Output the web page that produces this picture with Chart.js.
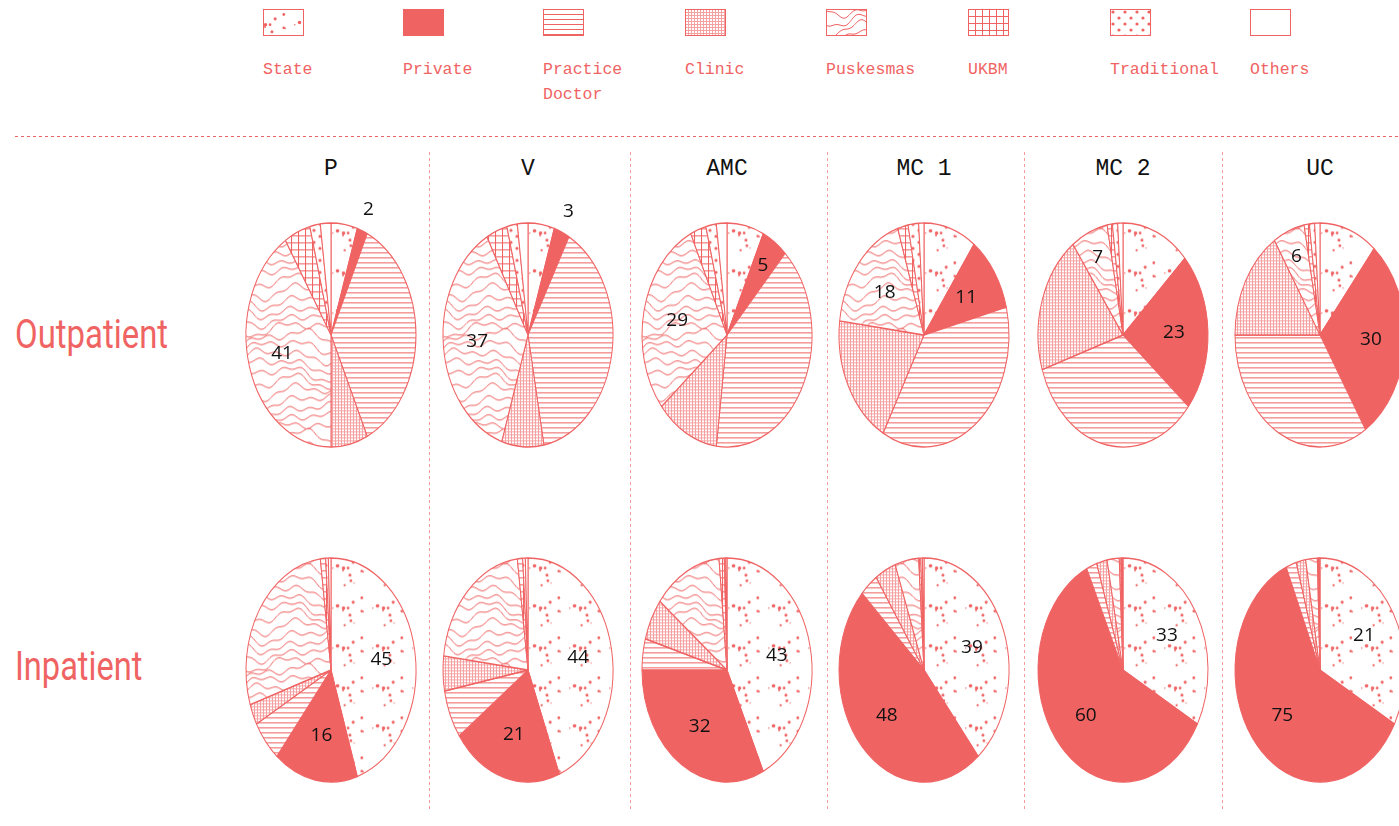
<!DOCTYPE html>
<html>
<head>
<meta charset="utf-8">
<script src="https://cdn.jsdelivr.net/npm/chart.js@4"></script>
<style>
  body { margin: 0; background: #fff; width: 1399px; height: 826px; overflow: hidden; position: relative; }
  .sw { position: absolute; top: 9px; }
  .lg { position: absolute; top: 57px; font: 16.5px/25px 'Liberation Mono', monospace; color: #f06363; white-space: nowrap; }
  .title { position: absolute; top: 154px; width: 200px; text-align: center; font: 23px/30px 'Liberation Mono', monospace; color: #111; white-space: pre; }
  .row { position: absolute; left: 15px; font: 400 40px/40px Roboto, sans-serif; color: #f06363; transform-origin: left center; white-space: nowrap; }
  .vsep { position: absolute; top: 152px; height: 658px; width: 1px; background: repeating-linear-gradient(to bottom, #f49c9c 0 3px, transparent 3px 6px); }
  .hsep { position: absolute; left: 15px; right: 0; top: 136px; height: 1px; background: repeating-linear-gradient(to right, #f06363 0 3px, transparent 3px 6px); }
  canvas.pie { position: absolute; }
</style>
</head>
<body>
<div class="hsep"></div>
<script>
// categories and facilities
const categories = ['State', 'Private', 'Practice\nDoctor', 'Clinic', 'Puskesmas', 'UKBM', 'Traditional', 'Others'];
const facilities = ['P', 'V', 'AMC', 'MC 1', 'MC 2', 'UC'];
const rows = ['Outpatient', 'Inpatient'];

// outpatient shares, order = categories
const outP   = [5, 2, 36, 7, 41, 5, 2, 2];
const outV   = [5, 3, 39, 8, 37, 4, 2, 2];
const outAMC = [7, 5, 40, 12, 29, 3, 2, 2];
const outMC1 = [10, 11, 37, 19, 18, 2, 2, 1];
const outMC2 = [13, 23, 34, 20, 7, 1, 1, 1];
const outUC  = [11, 30, 34, 16, 6, 1, 1, 1];

// inpatient shares
const inP   = [45, 16, 6, 3, 28, 1, 0.5, 0.5];
const inV   = [44, 21, 7, 5, 21, 1, 0.5, 0.5];
const inAMC = [43, 32, 4.5, 6, 13, 1, 0.25, 0.25];
const inMC1 = [39, 48, 3.5, 4, 4.5, 0.4, 0.3, 0.3];
const inMC2 = [33, 60, 2, 2, 2.3, 0.3, 0.2, 0.2];
const inUC  = [33, 60.5, 2, 1.8, 2.2, 0.2, 0.1, 0.2];

// numbers printed on the pies
const outPrivateLabel   = [2, 3, 5, 11, 23, 30];
const outPuskesmasLabel = [41, 37, 29, 18, 7, 6];
const inStateLabel      = [45, 44, 43, 39, 33, 21];
const inPrivateLabel    = [16, 21, 32, 48, 60, 75];

const CORAL = '#f06363';
const KY = 112 / 85;
const colX = [331, 528, 727, 924, 1123, 1320];
const rowY = [335, 670];

// ---------- pattern tiles ----------
function tile(w, h, draw) {
  const c = document.createElement('canvas');
  c.width = w; c.height = h;
  const g = c.getContext('2d');
  g.fillStyle = '#fff'; g.fillRect(0, 0, w, h);
  g.strokeStyle = CORAL; g.fillStyle = CORAL; g.lineWidth = 1;
  draw(g, w, h);
  return c;
}
let seed = 11;
const rnd = () => (seed = (seed * 16807) % 2147483647) / 2147483647;
const TAU = Math.PI * 2;

const tiles = [
  tile(40, 40, g => {            // State: scattered dots
    for (let i = 0; i < 13; i++) {
      g.beginPath(); g.arc(2 + rnd() * 36, 2 + rnd() * 36, 0.6 + rnd() * 1.3, 0, TAU); g.fill();
    }
  }),
  null,                          // Private: solid
  tile(5, 5, g => { g.fillRect(0, 0, 5, 1); }),                       // Practice doctor
  tile(3, 3, g => {              // Clinic: fine grid
    g.fillStyle = 'rgba(240,99,99,0.6)';
    g.fillRect(0, 0, 3, 1); g.fillRect(0, 1, 1, 2);
  }),
  tile(100, 100, g => {          // Puskesmas: contour lines
    for (let i = 0; i < 11; i++) for (const off of [-100, 0, 100]) {
      const p1 = Math.sin(i * 0.6) * 1.5, p2 = i * 0.35, p3 = Math.cos(i * 0.8) * 2;
      g.beginPath();
      for (let x = 0; x <= 100; x++) {
        const y = off + i * 100 / 11 + 5 * Math.sin(TAU * x / 100 + p1)
                + 3.5 * Math.sin(TAU * 2 * x / 100 + p2) + 2 * Math.sin(TAU * 5 * x / 100 + p3);
        x ? g.lineTo(x, y) : g.moveTo(x, y);
      }
      g.stroke();
    }
  }),
  tile(7, 7, g => { g.fillRect(0, 0, 7, 1); g.fillRect(0, 0, 1, 7); }),  // UKBM
  tile(12, 12, g => {            // Traditional
    g.beginPath(); g.arc(3, 3, 1.6, 0, TAU); g.fill();
    g.beginPath(); g.arc(9, 9, 1.6, 0, TAU); g.fill();
  }),
  tile(4, 4, () => {})           // Others: empty
];

const helper = document.createElement('canvas').getContext('2d');
const fills = tiles.map(t => {
  if (!t) return CORAL;
  const p = helper.createPattern(t, 'repeat');
  p.setTransform(new DOMMatrix([1, 0, 0, 1 / KY, 0, 0]));
  return p;
});

// ---------- legend ----------
const legX = [263, 403, 543, 685, 826, 968, 1110, 1250];
categories.forEach((name, i) => {
  const c = document.createElement('canvas');
  c.width = 41; c.height = 27; c.className = 'sw';
  c.style.left = legX[i] + 'px';
  const g = c.getContext('2d');
  g.fillStyle = tiles[i] ? g.createPattern(tiles[i], 'repeat') : CORAL;
  g.fillRect(0.5, 0.5, 40, 26);
  g.strokeStyle = CORAL; g.strokeRect(0.5, 0.5, 40, 26);
  document.body.appendChild(c);
  const t = document.createElement('div');
  t.className = 'lg'; t.style.left = legX[i] + 'px';
  t.innerHTML = name.replace('\n', '<br>');
  document.body.appendChild(t);
});

// ---------- titles, row labels, separators ----------
facilities.forEach((f, i) => {
  const d = document.createElement('div');
  d.className = 'title'; d.textContent = f;
  d.style.left = (colX[i] - 100) + 'px';
  document.body.appendChild(d);
});
[429, 630, 827, 1024, 1222].forEach(x => {
  const d = document.createElement('div');
  d.className = 'vsep'; d.style.left = x + 'px';
  document.body.appendChild(d);
});
const rowTop = [315, 647], rowW = [153, 127];
rows.forEach((r, i) => {
  const d = document.createElement('div');
  d.className = 'row'; d.textContent = r; d.style.top = rowTop[i] + 'px';
  document.body.appendChild(d);
  d.style.transform = 'scaleX(' + (rowW[i] / d.offsetWidth) + ')';
});

// ---------- pies ----------
const ellipse = {
  id: 'ellipse',
  beforeDatasetsDraw(chart) {
    const a = chart.getDatasetMeta(0).data[0];
    const ctx = chart.ctx;
    ctx.save();
    ctx.translate(a.x, a.y); ctx.scale(1, KY); ctx.translate(-a.x, -a.y);
  },
  afterDatasetsDraw(chart, args, opts) {
    const ctx = chart.ctx;
    ctx.restore();
    const meta = chart.getDatasetMeta(0);
    const vals = chart.data.datasets[0].data;
    ctx.save();
    ctx.font = '19px "Open Sans", sans-serif';
    ctx.fillStyle = '#111';
    ctx.textAlign = 'center';
    ctx.textBaseline = 'middle';
    opts.items.forEach(it => {
      const arc = meta.data[it.index];
      const mid = (arc.startAngle + arc.endAngle) / 2;
      const v = vals[it.index];
      const f = v < 4 ? 1.2 : v < 10 ? 0.75 : 0.6;
      const r = arc.outerRadius * f;
      ctx.fillText(String(it.text), arc.x + r * Math.cos(mid), arc.y + r * KY * Math.sin(mid));
    });
    ctx.restore();
  }
};

function makePie(cx, cy, values, items) {
  const c = document.createElement('canvas');
  c.className = 'pie'; c.width = 220; c.height = 300;
  c.style.left = (cx - 110) + 'px'; c.style.top = (cy - 150) + 'px';
  document.body.appendChild(c);
  new Chart(c, {
    type: 'pie',
    data: {
      labels: categories,
      datasets: [{
        data: values,
        backgroundColor: fills,
        borderColor: CORAL,
        borderWidth: 1,
        radius: 85
      }]
    },
    options: {
      responsive: false,
      animation: false,
      events: [],
      plugins: {
        legend: { display: false },
        tooltip: { enabled: false },
        ellipse: { items: items }
      }
    },
    plugins: [ellipse]
  });
}

const outData = [outP, outV, outAMC, outMC1, outMC2, outUC];
const inData = [inP, inV, inAMC, inMC1, inMC2, inUC];
outData.forEach((d, i) => makePie(colX[i], rowY[0], d, [
  { index: 1, text: outPrivateLabel[i] },
  { index: 4, text: outPuskesmasLabel[i] }
]));
inData.forEach((d, i) => makePie(colX[i], rowY[1], d, [
  { index: 0, text: inStateLabel[i] },
  { index: 1, text: inPrivateLabel[i] }
]));
</script>
</body>
</html>
